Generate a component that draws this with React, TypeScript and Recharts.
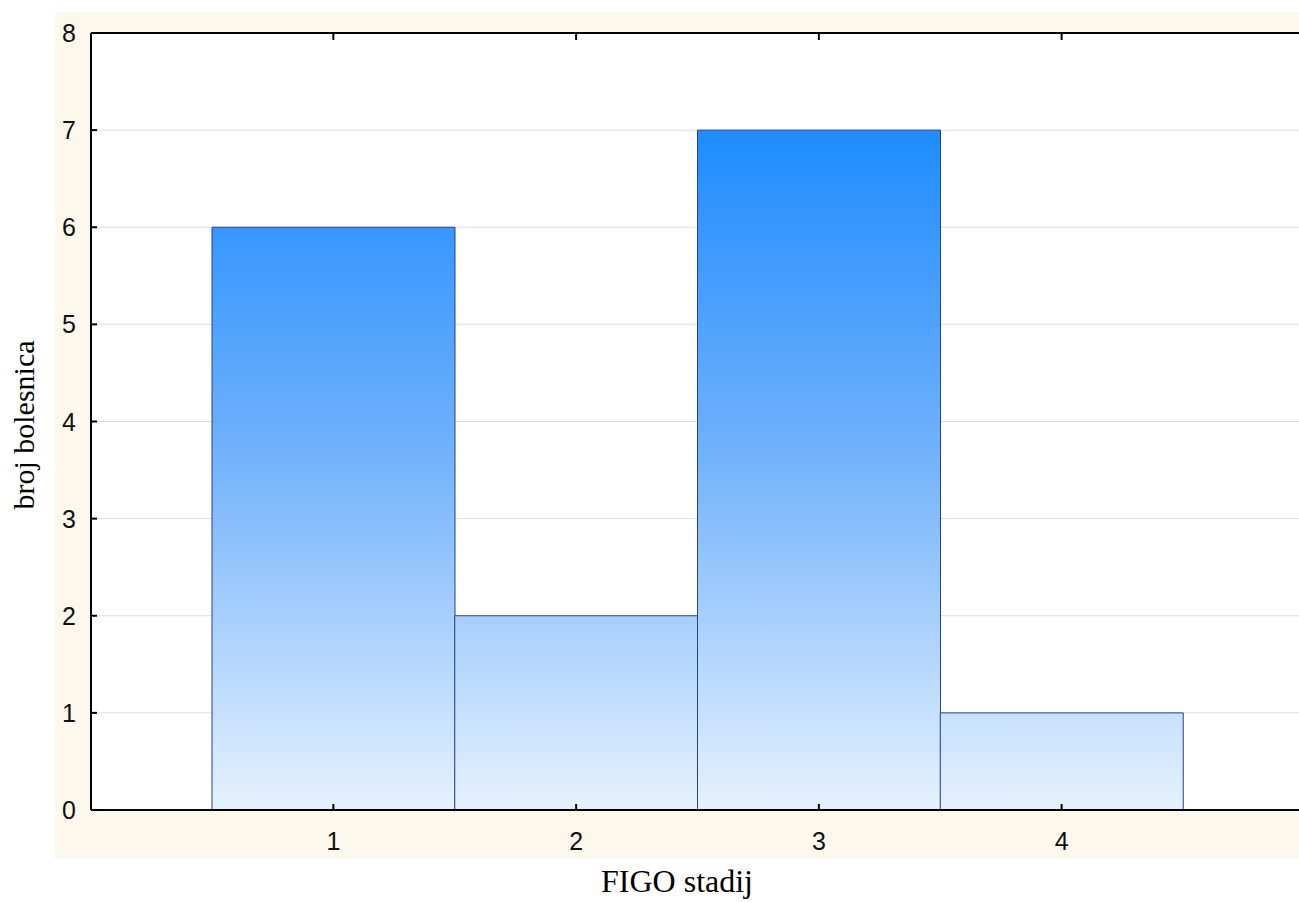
import { Bar, BarChart, CartesianGrid, XAxis, YAxis } from "recharts";

// FIGO stage histogram: number of patients per stage.
const stages = ["1", "2", "3", "4"];
const patients = [6, 2, 7, 1];
const yTicks = [0, 1, 2, 3, 4, 5, 6, 7, 8];

const data = stages.map((stage, i) => ({ stage, count: patients[i] }));

const AXIS_FONT = "'Liberation Sans', Arial, sans-serif";
const LABEL_FONT = "'Liberation Serif', 'Times New Roman', serif";

function BottomTick({ x, y, payload }: { x?: number; y?: number; payload?: { value: string } }) {
  return (
    <g>
      <line x1={x} x2={x} y1={y} y2={(y ?? 0) - 6} stroke="#000" strokeWidth={2} />
      <text x={x} y={(y ?? 0) + 40} textAnchor="middle" style={{ fontSize: 25, fontFamily: AXIS_FONT }} fill="#111">
        {payload?.value}
      </text>
    </g>
  );
}

function TopTick({ x, y }: { x?: number; y?: number }) {
  return <line x1={x} x2={x} y1={y} y2={(y ?? 0) + 7} stroke="#000" strokeWidth={2} />;
}

function LeftTick({ x, y, payload }: { x?: number; y?: number; payload?: { value: number } }) {
  return (
    <g>
      <line x1={x} x2={(x ?? 0) + 6} y1={y} y2={y} stroke="#000" strokeWidth={2} />
      <text x={(x ?? 0) - 15} y={(y ?? 0) + 9} textAnchor="end" style={{ fontSize: 25, fontFamily: AXIS_FONT }} fill="#111">
        {payload?.value}
      </text>
    </g>
  );
}

export default function App() {
  return (
    <div style={{ position: "absolute", left: 0, top: 0, width: 1299, height: 902, background: "#fff" }}>
      <div
        style={{ position: "absolute", left: 55, top: 12, width: 1244, height: 846, background: "#FDF8EC" }}
      />
      <div style={{ position: "absolute", left: 0, top: 0 }}>
        <BarChart
          width={1299}
          height={902}
          data={data}
          margin={{ top: 32, right: 0, left: 0, bottom: 0 }}
          barCategoryGap={0}
        >
          <defs>
            <linearGradient id="barFill" gradientUnits="userSpaceOnUse" x1="0" y1="130" x2="0" y2="810">
              <stop offset="0%" stopColor="#1E8CFF" />
              <stop offset="48%" stopColor="#72B2FB" />
              <stop offset="100%" stopColor="#E6F2FE" />
            </linearGradient>
          </defs>
          <CartesianGrid vertical={false} stroke="#DEDEDE" fill="#ffffff" fillOpacity={1} />
          <XAxis
            dataKey="stage"
            height={92}
            padding={{ left: 121, right: 116 }}
            axisLine={{ stroke: "#000", strokeWidth: 2 }}
            tickLine={false}
            tickSize={0}
            tickMargin={0}
            tick={<BottomTick />}
            label={{
              content: () => (
                <text x={677} y={892} textAnchor="middle" style={{ fontSize: 32, fontFamily: LABEL_FONT }} fill="#000">
                  FIGO stadij
                </text>
              ),
            }}
          />
          <XAxis
            xAxisId="top"
            dataKey="stage"
            orientation="top"
            height={1}
            padding={{ left: 121, right: 116 }}
            axisLine={{ stroke: "#000", strokeWidth: 2 }}
            tickLine={false}
            tickSize={0}
            tickMargin={0}
            tick={<TopTick />}
          />
          <YAxis
            width={91}
            domain={[0, 8]}
            ticks={yTicks}
            interval={0}
            axisLine={{ stroke: "#000", strokeWidth: 2 }}
            tickLine={false}
            tickSize={0}
            tickMargin={0}
            tick={<LeftTick />}
            label={{
              content: () => (
                <text
                  x={34}
                  y={425}
                  transform="rotate(-90 34 425)"
                  textAnchor="middle"
                  style={{ fontSize: 30, fontFamily: LABEL_FONT }}
                  fill="#000"
                >
                  broj bolesnica
                </text>
              ),
            }}
          />
          <Bar dataKey="count" fill="url(#barFill)" stroke="#24438F" strokeWidth={1} isAnimationActive={false} />
        </BarChart>
      </div>
    </div>
  );
}
